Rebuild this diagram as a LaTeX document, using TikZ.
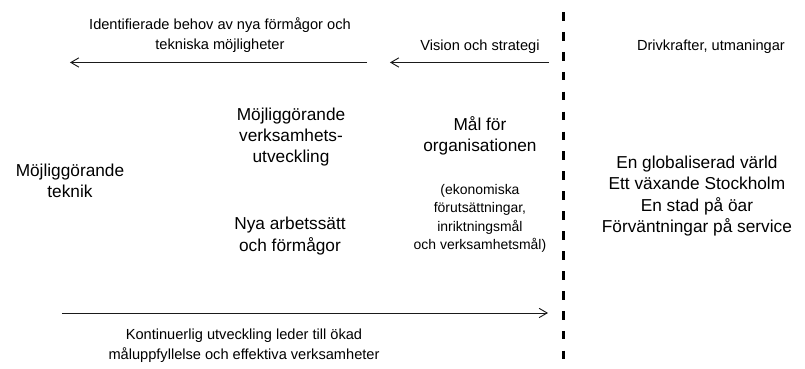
\documentclass[tikz,border=0pt]{standalone}
\usepackage{fontspec}
\setmainfont{Liberation Sans}
\usepackage{xcolor}
\usepackage{tikz}
\usetikzlibrary{
    arrows.meta,
    positioning,
    calc
}
\definecolor{stlmline}{HTML}{1A1A1A}
\tikzset{
    % Large centred text block
    maintext/.style={
        align=center,
        inner sep=0pt,
        font=\fontsize{13}{16}\selectfont
    },
    % Smaller arrow label
    smalltext/.style={
        align=center,
        inner sep=0pt,
        font=\fontsize{11}{15}\selectfont
    },
    % Note in parentheses
    notetext/.style={
        align=center,
        inner sep=0pt,
        font=\fontsize{10.5}{14}\selectfont
    },
    % Thin arrow with open tip
    flowarrow/.style={
        -{Straight Barb[length=6pt,width=7pt]},
        line width=0.7pt,
        color=stlmline
    },
    % Heavy dashed divider
    divider/.style={
        line width=2.4pt,
        color=black,
        dash pattern=on 6.5pt off 8.5pt
    }
}

\begin{document}
\begin{tikzpicture}

    \useasboundingbox (0,0) rectangle (21.30,9.763);

    % Divider between organisation and surroundings
    \coordinate (div-top) at (14.90,9.445);
    \coordinate (div-bot) at (14.90,0);
    \draw[divider] (div-top) -- (div-bot);

    % Arrow end points
    \coordinate (needs-start) at (9.711,8.110);
    \coordinate (needs-end) at (1.852,8.110);
    \coordinate (vision-start) at (14.527,8.110);
    \coordinate (vision-end) at (10.319,8.110);
    \coordinate (cont-start) at (1.640,1.482);
    \coordinate (cont-end) at (14.500,1.482);

    % Arrows
    \draw[flowarrow] (needs-start) -- (needs-end);
    \draw[flowarrow] (vision-start) -- (vision-end);
    \draw[flowarrow] (cont-start) -- (cont-end);

    % Arrow labels
    \node[smalltext] (needs-lbl) at (5.82,8.838) {Identifierade behov av nya förmågor och\\tekniska möjligheter};
    \node[smalltext] (vision-lbl) at (12.70,8.520) {Vision och strategi};
    \node[smalltext] (drivers-lbl) at (18.81,8.520) {Drivkrafter, utmaningar};
    \node[smalltext] (cont-lbl) at (6.456,0.609) {Kontinuerlig utveckling leder till ökad\\måluppfyllelse och effektiva verksamheter};

    % Blocks of text
    \node[maintext] (tech) at (1.852,4.974) {Möjliggörande\\teknik};
    \node[maintext] (business) at (7.700,6.139) {Möjliggörande\\verksamhets-\\utveckling};
    \node[maintext] (ways) at (7.673,3.519) {Nya arbetssätt\\och förmågor};
    \node[maintext] (goals) at (12.70,6.165) {Mål för\\organisationen};
    \node[notetext] (goals-note) at (12.70,3.982) {(ekonomiska\\förutsättningar,\\inriktningsmål\\och verksamhetsmål)};
    \node[maintext] (world) at (18.44,4.578) {En globaliserad värld\\Ett växande Stockholm\\En stad på öar\\Förväntningar på service};

\end{tikzpicture}
\end{document}
